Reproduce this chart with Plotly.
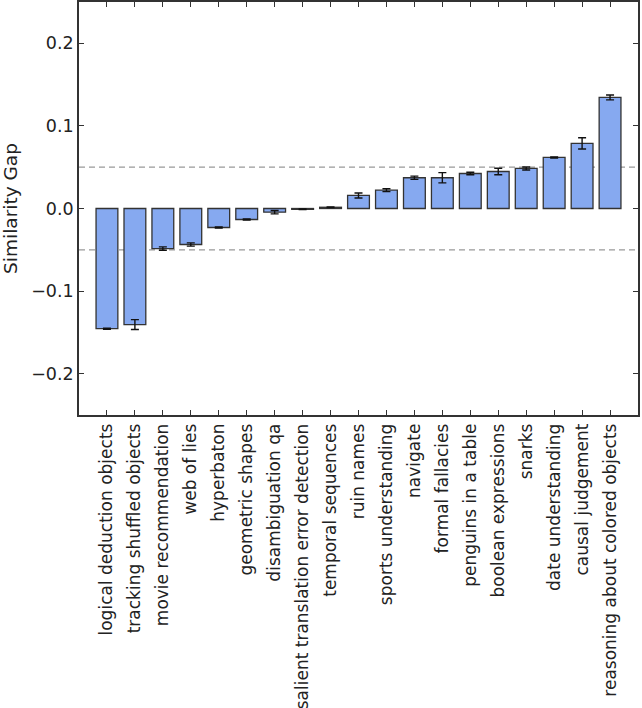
import plotly.graph_objects as go

categories = [
    "logical deduction objects", "tracking shuffled objects", "movie recommendation",
    "web of lies", "hyperbaton", "geometric shapes", "disambiguation qa",
    "salient translation error detection", "temporal sequences", "ruin names",
    "sports understanding", "navigate", "formal fallacies", "penguins in a table",
    "boolean expressions", "snarks", "date understanding", "causal judgement",
    "reasoning about colored objects",
]
gap = [-0.1455, -0.1405, -0.0485, -0.0436, -0.0230, -0.0133, -0.0045,
       -0.0010, 0.0015, 0.0158, 0.0222, 0.0372, 0.0372, 0.0424,
       0.0448, 0.0485, 0.0618, 0.0788, 0.1345]
err = [0.0007, 0.0060, 0.0020, 0.0020, 0.0006, 0.0006, 0.0020,
       0.0004, 0.0005, 0.0030, 0.0018, 0.0020, 0.0062, 0.0015,
       0.0040, 0.0018, 0.0006, 0.0068, 0.0030]
y_ticks = [-0.2, -0.1, 0.0, 0.1, 0.2]
threshold = 0.05

x_idx = list(range(len(categories)))

fig = go.Figure()
fig.add_trace(go.Bar(
    x=x_idx, y=gap, width=0.78,
    marker=dict(color="#86a9f0", line=dict(color="#333333", width=1.3)),
    error_y=dict(type="data", array=err, visible=True, color="#111111",
                 thickness=1.4, width=4),
))

for v in (threshold, -threshold):
    fig.add_hline(y=v, line=dict(color="#999999", width=1.3, dash="6px,4px"), layer="below")

font = "DejaVu Sans, Arial, sans-serif"
fig.update_layout(
    width=642, height=708,
    margin=dict(l=79, r=4, t=2, b=293, autoexpand=False),
    plot_bgcolor="white", paper_bgcolor="white",
    showlegend=False,
    font=dict(family=font, size=17, color="#222222"),
)
fig.update_xaxes(
    range=[-1, len(categories)], tickmode="array", tickvals=x_idx,
    ticktext=categories, tickangle=-90, tickfont=dict(size=17),
    ticks="inside", ticklen=5, tickcolor="#333333",
    showline=True, linecolor="#333333", linewidth=1.6, mirror="ticks",
    showgrid=False, zeroline=False, automargin=False,
)
fig.update_yaxes(
    range=[-0.25, 0.25], tickmode="array", tickvals=y_ticks,
    ticktext=["−0.2", "−0.1", "0.0", "0.1", "0.2"], tickfont=dict(size=17.5),
    ticks="inside", ticklen=5, tickcolor="#333333",
    showline=True, linecolor="#333333", linewidth=1.6, mirror="ticks",
    showgrid=False, zeroline=False, automargin=False,
    title=dict(text="Similarity Gap", font=dict(size=18.5), standoff=10),
)

fig.write_html("out.html", config={"displayModeBar": False},
               post_script="document.body.style.margin='0';")
